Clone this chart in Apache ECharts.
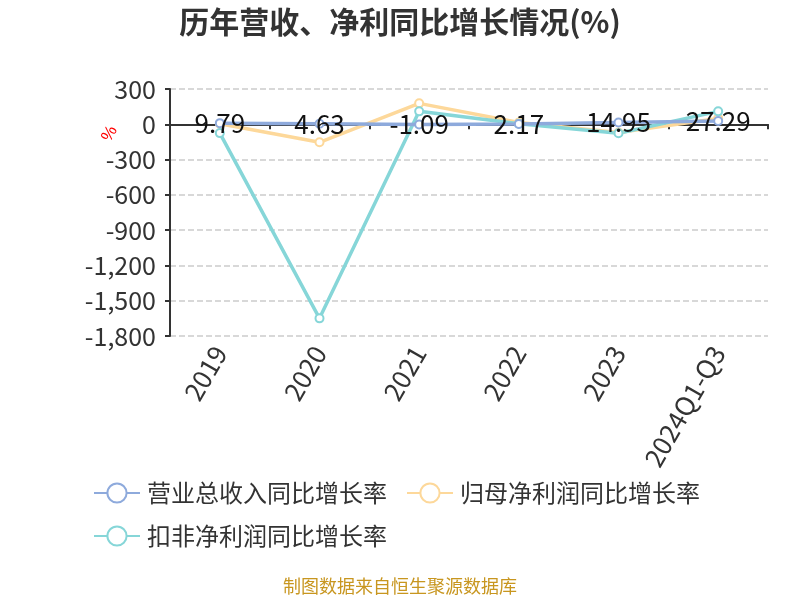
<!DOCTYPE html>
<html><head><meta charset="utf-8">
<script src="https://cdn.jsdelivr.net/npm/echarts@6/dist/echarts.min.js"></script>
<style>html,body{margin:0;padding:0;background:#fff}#c{width:800px;height:600px}</style>
</head><body><div id="c"></div>
<script>
const categories = ['2019','2020','2021','2022','2023','2024Q1-Q3'];
const revenueGrowth = [9.79, 4.63, -1.09, 2.17, 14.95, 27.29];
const netProfitGrowth = [5, -153, 178, 15, -70, 50];
const deductedProfitGrowth = [-75, -1650, 110, 5, -76, 110];
const seriesNames = ['营业总收入同比增长率','归母净利润同比增长率','扣非净利润同比增长率'];

const chart = echarts.init(document.getElementById('c'));
const font = '"Noto Sans CJK SC", "Noto Sans", sans-serif';
chart.setOption({
  color: ['#8eaadc', '#fdd89a', '#86d6d8'],
  title: {
    text: '历年营收、净利同比增长情况(%)',
    left: 'center', top: 2,
    textStyle: {fontSize: 30, fontWeight: 'bold', color: '#333', fontFamily: font}
  },
  graphic: [{
    type: 'text', left: 'center', top: 577,
    style: {text: '制图数据来自恒生聚源数据库', fill: '#c8961f', fontSize: 18, fontFamily: font}
  }],
  legend: {
    left: 88, top: 476, width: 680,
    itemWidth: 46, itemHeight: 24, itemGap: 19,
    textStyle: {fontSize: 24, color: '#333', fontFamily: font, padding: [0, 14, 0, 2]},
    data: seriesNames
  },
  grid: {left: 170, right: 32, top: 89, bottom: 264, containLabel: false},
  xAxis: {
    type: 'category', data: categories,
    axisLine: {onZero: true, lineStyle: {color: '#333', width: 2}},
    axisTick: {show: true, lineStyle: {color: '#333', width: 2}},
    axisLabel: {rotate: 60, fontSize: 26, color: '#333', fontFamily: font, interval: 0, margin: 12},
    position: 'bottom'
  },
  yAxis: {
    type: 'value', min: -1800, max: 300, interval: 300,
    name: '%', nameLocation: 'end', nameRotate: 60,
    nameGap: 0,
    nameTextStyle: {color: 'red', fontSize: 17, padding: [0, 0, -72, -128]},
    axisLine: {show: true, lineStyle: {color: '#333', width: 2}},
    axisTick: {show: true, length: 5, lineStyle: {color: '#333', width: 2}},
    axisLabel: {fontSize: 25, color: '#333', fontFamily: font, margin: 14},
    splitLine: {lineStyle: {type: 'dashed', color: '#ccc', width: 1.5}}
  },
  series: [
    {name: seriesNames[0], type: 'line', data: revenueGrowth, symbol: 'emptyCircle', symbolSize: 8,
     lineStyle: {width: 3.5}, z: 3,
     label: {show: true, position: 'inside', color: '#111', fontSize: 26, fontFamily: font}},
    {name: seriesNames[1], type: 'line', data: netProfitGrowth, symbol: 'emptyCircle', symbolSize: 8,
     lineStyle: {width: 3.5}, z: 2},
    {name: seriesNames[2], type: 'line', data: deductedProfitGrowth, symbol: 'emptyCircle', symbolSize: 8,
     lineStyle: {width: 3.5}, z: 2}
  ]
});
</script></body></html>
